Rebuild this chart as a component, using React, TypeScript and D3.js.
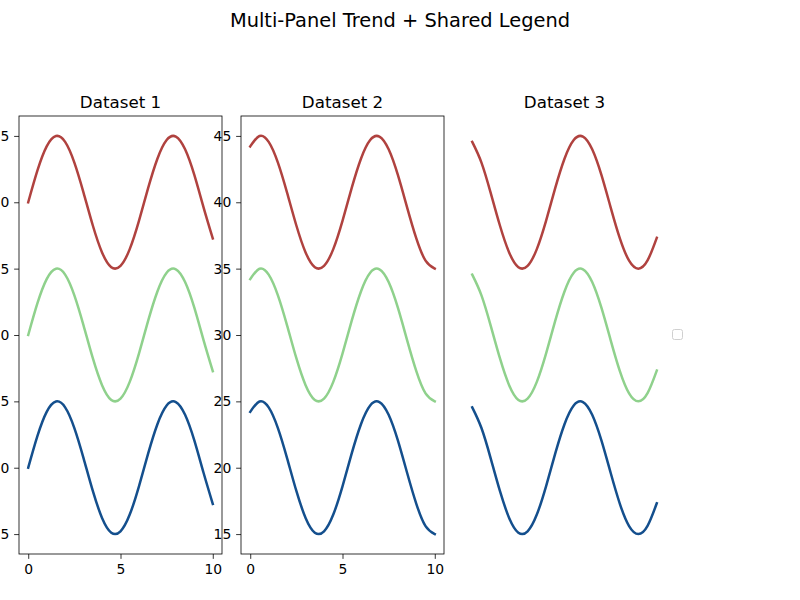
import { useEffect, useRef } from "react";
import * as d3 from "d3";

// x positions shared by all series
const xs: number[] = [0, 0.5, 1, 1.5, 2, 2.5, 3, 3.5, 4, 4.5, 5, 5.5, 6, 6.5, 7, 7.5, 8, 8.5, 9, 9.5, 10];

// Dataset 1
const red1: number[] = [40.0, 42.4, 44.21, 44.99, 44.55, 42.99, 40.71, 38.25, 36.22, 35.11, 35.21, 36.47, 38.6, 41.08, 43.28, 44.69, 44.95, 43.99, 42.06, 39.62, 37.28];
const green1: number[] = [30.0, 32.4, 34.21, 34.99, 34.55, 32.99, 30.71, 28.25, 26.22, 25.11, 25.21, 26.47, 28.6, 31.08, 33.28, 34.69, 34.95, 33.99, 32.06, 29.62, 27.28];
const blue1: number[] = [20.0, 22.4, 24.21, 24.99, 24.55, 22.99, 20.71, 18.25, 16.22, 15.11, 15.21, 16.47, 18.6, 21.08, 23.28, 24.69, 24.95, 23.99, 22.06, 19.62, 17.28];

// Dataset 2
const red2: number[] = [44.21, 44.99, 44.55, 42.99, 40.71, 38.25, 36.22, 35.11, 35.21, 36.47, 38.6, 41.08, 43.28, 44.69, 44.95, 43.99, 42.06, 39.62, 37.28, 35.6, 35.0];
const green2: number[] = [34.21, 34.99, 34.55, 32.99, 30.71, 28.25, 26.22, 25.11, 25.21, 26.47, 28.6, 31.08, 33.28, 34.69, 34.95, 33.99, 32.06, 29.62, 27.28, 25.6, 25.0];
const blue2: number[] = [24.21, 24.99, 24.55, 22.99, 20.71, 18.25, 16.22, 15.11, 15.21, 16.47, 18.6, 21.08, 23.28, 24.69, 24.95, 23.99, 22.06, 19.62, 17.28, 15.6, 15.0];

// Dataset 3
const red3: number[] = [44.55, 42.99, 40.71, 38.25, 36.22, 35.11, 35.21, 36.47, 38.6, 41.08, 43.28, 44.69, 44.95, 43.99, 42.06, 39.62, 37.28, 35.6, 35.0, 35.62, 37.32];
const green3: number[] = [34.55, 32.99, 30.71, 28.25, 26.22, 25.11, 25.21, 26.47, 28.6, 31.08, 33.28, 34.69, 34.95, 33.99, 32.06, 29.62, 27.28, 25.6, 25.0, 25.62, 27.32];
const blue3: number[] = [24.55, 22.99, 20.71, 18.25, 16.22, 15.11, 15.21, 16.47, 18.6, 21.08, 23.28, 24.69, 24.95, 23.99, 22.06, 19.62, 17.28, 15.6, 15.0, 15.62, 17.32];

const panelTitles: string[] = ["Dataset 1", "Dataset 2", "Dataset 3"];
const xTicks: number[] = [0, 5, 10];
const yTicks: number[] = [15, 20, 25, 30, 35, 40, 45];
const colors: string[] = ["#b0423f", "#8fd18c", "#144f8d"];

const panels: number[][][] = [
  [red1, green1, blue1],
  [red2, green2, blue2],
  [red3, green3, blue3],
];

function App() {
  const svgRef = useRef<SVGSVGElement>(null);

  useEffect(() => {
    if (!svgRef.current) return;
    const svg = d3.select(svgRef.current);
    svg.selectAll("*").remove();

    const width = 800;
    const height = 600;
    const font = "DejaVu Sans, sans-serif";
    svg.attr("width", width).attr("height", height);

    svg.append("rect").attr("width", width).attr("height", height).attr("fill", "white");

    // figure title
    svg
      .append("text")
      .attr("x", 400)
      .attr("y", 27)
      .attr("text-anchor", "middle")
      .attr("font-family", font)
      .attr("font-size", 19.4)
      .text("Multi-Panel Trend + Shared Legend");

    const axTop = 116;
    const axH = 438;
    const axW = 203;
    const tick = 4.86;

    const x = d3.scaleLinear().domain([-0.5, 10.5]).range([0, axW]);
    const y = d3.scaleLinear().domain([13.5, 46.5]).range([axH, 0]);

    const line = d3
      .line<number>()
      .x((_, i) => x(xs[i]))
      .y((d) => y(d))
      .curve(d3.curveNatural);

    panels.forEach((series, p) => {
      const left = 19 + p * 222;
      const g = svg.append("g").attr("transform", `translate(${left},${axTop})`);

      // subplot title
      g.append("text")
        .attr("x", axW / 2)
        .attr("y", -8)
        .attr("text-anchor", "middle")
        .attr("font-family", font)
        .attr("font-size", 16.7)
        .text(panelTitles[p]);

      const showAxes = p < 2;

      if (showAxes) {
        const xAxis = g
          .append("g")
          .attr("transform", `translate(0,${axH})`)
          .call(d3.axisBottom(x).tickValues(xTicks).tickFormat(d3.format("d")).tickSize(tick).tickPadding(tick));
        const yAxis = g
          .append("g")
          .call(d3.axisLeft(y).tickValues(yTicks).tickFormat(d3.format("d")).tickSize(tick).tickPadding(tick));
        [xAxis, yAxis].forEach((a) => {
          a.select(".domain").remove();
          a.selectAll("line").attr("stroke", "black").attr("stroke-width", 0.8);
          a.selectAll("text").attr("font-family", font).attr("font-size", 13.9).attr("fill", "black");
        });
      }

      // lines
      series.forEach((vals, s) => {
        g.append("path")
          .datum(vals)
          .attr("d", line)
          .attr("fill", "none")
          .attr("stroke", colors[s])
          .attr("stroke-width", 2.5)
          .attr("stroke-linecap", "square");
      });

      if (showAxes) {
        g.append("rect")
          .attr("width", axW)
          .attr("height", axH)
          .attr("fill", "none")
          .attr("stroke", "black")
          .attr("stroke-width", 0.8);
      }
    });

    // empty shared legend
    svg
      .append("rect")
      .attr("x", 672.5)
      .attr("y", 329.5)
      .attr("width", 10)
      .attr("height", 10)
      .attr("rx", 2)
      .attr("fill", "white")
      .attr("stroke", "#d0d0d0")
      .attr("stroke-width", 1);
  }, []);

  return <svg ref={svgRef} style={{ position: "absolute", left: 0, top: 0 }}></svg>;
}

export default App;
